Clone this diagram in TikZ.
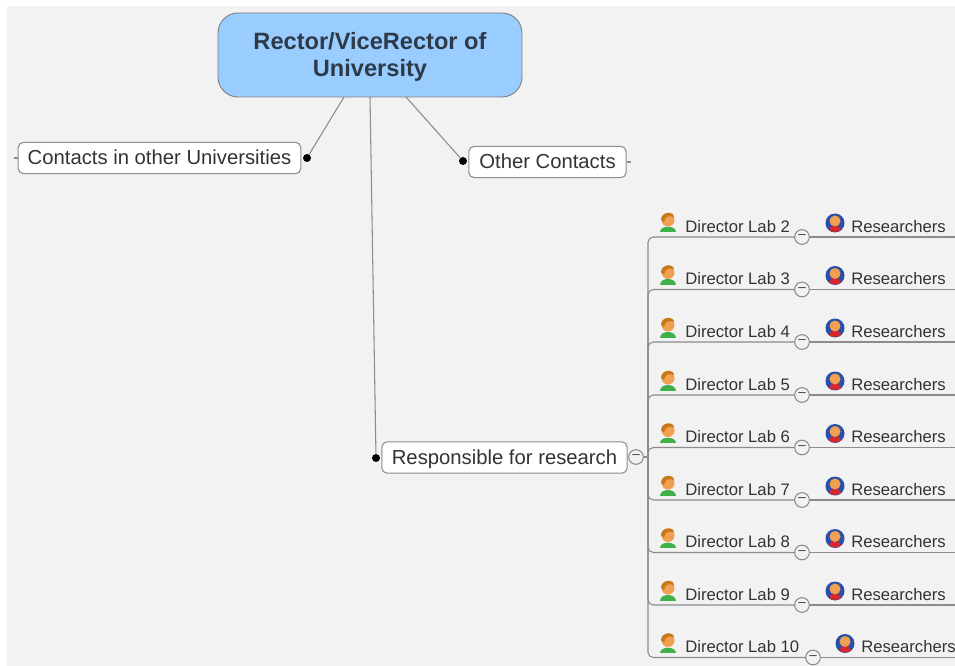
\documentclass[tikz,border=0pt]{standalone}
\usepackage{fontspec}
\setmainfont{Liberation Sans}
\usetikzlibrary{calc}
\definecolor{canvas}{HTML}{F2F2F2}
\definecolor{rectorblue}{HTML}{99CCFF}
\definecolor{titletext}{HTML}{2E3A48}
\definecolor{labeltext}{HTML}{333333}
\definecolor{linegray}{HTML}{8C8C8C}
\definecolor{skin}{HTML}{F0A050}
\definecolor{hair}{HTML}{C87818}
\definecolor{shirtgreen}{HTML}{3FB04A}
\definecolor{ballblue}{HTML}{2A4FA8}
\definecolor{shirtred}{HTML}{D8262C}
\tikzset{
  link/.style={draw=linegray, line width=0.8pt},
  rectorbox/.style={draw=gray, fill=rectorblue, rounded corners=15pt, line width=0.7pt, minimum width=228pt, minimum height=63pt, align=center, text=titletext, font=\fontsize{17.7}{20.5}\selectfont\bfseries},
  topicbox/.style={draw=linegray, fill=white, rounded corners=4pt, line width=0.8pt, inner sep=0pt, minimum height=23.5pt, text height=13.5pt, text depth=3.5pt, text=labeltext, font=\fontsize{15.2}{18}\selectfont},
  leaftext/.style={anchor=west, inner sep=0pt, text height=12pt, text depth=2.5pt, text=labeltext, font=\fontsize{12.5}{15}\selectfont},
  joindot/.style={circle, fill=black, inner sep=0pt, minimum size=6pt},
  collapse/.style={circle, draw=linegray, fill=canvas, inner sep=0pt, minimum size=11pt, line width=0.8pt, text=labeltext, font=\fontsize{10}{10}\selectfont},
  director/.pic={
    \fill[shirtgreen] (-8,9.5) .. controls (-8,2) and (8,2) .. (8,9.5) -- cycle;
    \fill[skin] (0,-3) circle[radius=6.5];
    \fill[hair] (-7,-3) .. controls (-7,-12) and (6,-12) .. (6,-6) .. controls (1,-8) and (-3,-7) .. (-4,-1) -- cycle;
  },
  researcher/.pic={
    \fill[ballblue] (0,0) circle[radius=9.5];
    \fill[shirtred] (-6,7) .. controls (-6,1) and (6,1) .. (6,7) .. controls (3,9.5) and (-3,9.5) .. (-6,7) -- cycle;
    \fill[skin] (0,-2) circle[radius=5.5];
  }
}
\begin{document}
\begin{tikzpicture}[x=0.75pt,y=-0.75pt]
\useasboundingbox (0,0) rectangle (955,666);
\fill[white] (0,0) rectangle (955,666);
\fill[canvas] (7,6) rectangle (955,666);

\node[rectorbox] (rector) at (370,55) {\rule{0pt}{16pt}Rector/ViceRector of\\University};
\node[topicbox, minimum width=212pt] (contacts) at (159.5,158) {Contacts in other Universities};
\node[topicbox, minimum width=118pt] (other) at (547.5,162) {Other Contacts};
\node[topicbox, minimum width=184pt] (research) at (504.5,457.5) {Responsible for research};

\node[joindot] (dotcontacts) at (307,158) {};
\node[joindot] (dotother) at (463,161) {};
\node[joindot] (dotresearch) at (376,458) {};

\coordinate (rectorleft) at (344,97);
\coordinate (rectormid) at (370,97);
\coordinate (rectorright) at (406,97);
\coordinate (stubleft) at (14,158);
\coordinate (stubright) at (631,162);
\coordinate (trunk) at (648,457);

\draw[link] (rectorleft) -- (dotcontacts);
\draw[link] (rectormid) -- (dotresearch);
\draw[link] (rectorright) -- (dotother);
\draw[link] (stubleft) -- (contacts);
\draw[link] (other) -- (stubright);

\node[collapse] (colresearch) at (636,457) {–};
\draw[link] (colresearch) -- (trunk);

\foreach \n/\y/\cx/\rx in {2/237/802/851,3/289.5/802/851,4/342/802/851,5/395/802/851,6/447.5/802/851,7/500/802/851,8/552.5/802/851,9/605/802/851,10/657.5/813/861} {
  \node[collapse] (col\n) at (\cx,\y) {–};
  \coordinate (end\n) at (955,\y);
  \draw[link, rounded corners=4pt] (trunk) |- (col\n);
  \draw[link] (col\n) -- (end\n);
  \pic at (668,\y-14) {director};
  \node[leaftext] (dir\n) at (685,\y-11) {Director Lab \n};
  \pic at (\rx-16,\y-14) {researcher};
  \node[leaftext] (res\n) at (\rx,\y-11) {Researchers};
}
\end{tikzpicture}
\end{document}
